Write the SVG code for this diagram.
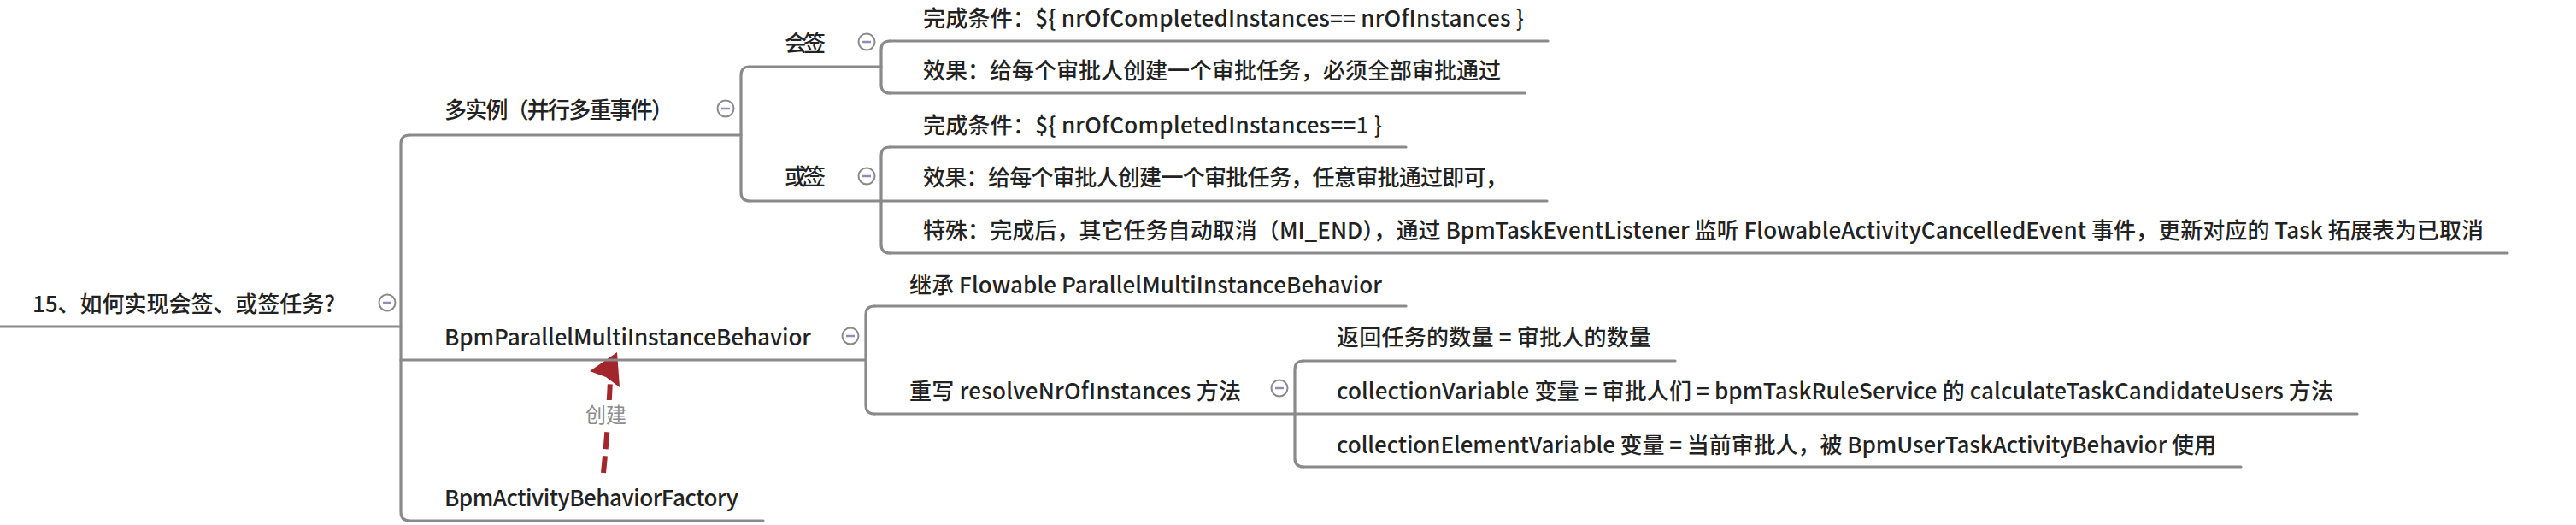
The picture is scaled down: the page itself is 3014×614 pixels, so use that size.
<svg xmlns="http://www.w3.org/2000/svg" width="3014" height="614" viewBox="0 0 3014 614">
<style>
.t{font-family:"Noto Sans CJK SC","Noto Sans",sans-serif;font-size:26px;fill:#222;font-weight:500}
.u{stroke:#8a8a8a;stroke-width:3.2;fill:none;stroke-linecap:round}
.c{fill:#fff;stroke:#8a8a8a;stroke-width:2}
.m{stroke:#8d8db5;stroke-width:2.5}
.lbl{font-family:"Noto Sans CJK SC","Noto Sans",sans-serif;font-size:24px;fill:#8c8c8c}
.dash{stroke:#a3262c;stroke-width:6;fill:none;stroke-dasharray:20 8}
</style>
<rect width="3014" height="614" fill="#fff"/>
<g id="connectors">
<path class="u" d="M479,158 Q469,158 469,168 V599 Q469,609 479,609"/>
<path class="u" d="M877,78 Q867,78 867,88 V225 Q867,235 877,235"/>
<path class="u" d="M1041,48 Q1031,48 1031,58 V99 Q1031,109 1041,109"/>
<path class="u" d="M1041,172 Q1031,172 1031,182 V286 Q1031,296 1041,296"/>
<path class="u" d="M1023,358 Q1013,358 1013,368 V474 Q1013,484 1023,484"/>
<path class="u" d="M1525,422 Q1515,422 1515,432 V536 Q1515,546 1525,546"/>
<g id="create-arrow">
<path class="dash" d="M706,553 Q711,505 714,446"/>
<polygon points="722,412 690,434 709,441 725,453" fill="#a3262c"/>
<rect x="683" y="468" width="52" height="34" fill="#fff"/>
<text class="lbl" x="709" y="494" text-anchor="middle">创建</text>
</g>
</g>
<g id="root">
<line class="u" x1="0" y1="382" x2="469" y2="382"/>
<text class="t" x="38" y="365" textLength="354">15、如何实现会签、或签任务?</text>
<circle class="c" cx="453" cy="354" r="9.5"/><line class="m" x1="448" y1="354" x2="458" y2="354"/>
</g>
<g id="multi-instance">
<line class="u" x1="479" y1="158" x2="867" y2="158"/>
<text class="t" x="520" y="138" textLength="268">多实例（并行多重事件）</text>
<circle class="c" cx="849" cy="127" r="9.5"/><line class="m" x1="844" y1="127" x2="854" y2="127"/>
</g>
<g id="huiqian">
<line class="u" x1="877" y1="78" x2="1031" y2="78"/>
<text class="t" x="918" y="60" textLength="48">会签</text>
<circle class="c" cx="1014" cy="49" r="9.5"/><line class="m" x1="1009" y1="49" x2="1019" y2="49"/>
</g>
<g id="huiqian-cond">
<line class="u" x1="1041" y1="48" x2="1811" y2="48"/>
<text class="t" x="1080" y="31" textLength="703">完成条件：${ nrOfCompletedInstances== nrOfInstances }</text>
</g>
<g id="huiqian-effect">
<line class="u" x1="1041" y1="109" x2="1784" y2="109"/>
<text class="t" x="1080" y="92" textLength="676">效果：给每个审批人创建一个审批任务，必须全部审批通过</text>
</g>
<g id="huoqian">
<line class="u" x1="877" y1="235" x2="1031" y2="235"/>
<text class="t" x="918" y="216" textLength="48">或签</text>
<circle class="c" cx="1014" cy="206" r="9.5"/><line class="m" x1="1009" y1="206" x2="1019" y2="206"/>
</g>
<g id="huoqian-cond">
<line class="u" x1="1041" y1="172" x2="1645" y2="172"/>
<text class="t" x="1080" y="156" textLength="537">完成条件：${ nrOfCompletedInstances==1 }</text>
</g>
<g id="huoqian-effect">
<line class="u" x1="1031" y1="235" x2="1810" y2="235"/>
<text class="t" x="1080" y="217" textLength="684">效果：给每个审批人创建一个审批任务，任意审批通过即可，</text>
</g>
<g id="huoqian-special">
<line class="u" x1="1041" y1="296" x2="2934" y2="296"/>
<text class="t" x="1080" y="279" textLength="1826">特殊：完成后，其它任务自动取消（MI_END），通过 BpmTaskEventListener 监听 FlowableActivityCancelledEvent 事件，更新对应的 Task 拓展表为已取消</text>
</g>
<g id="parallel-behavior">
<line class="u" x1="469" y1="421" x2="1013" y2="421"/>
<text class="t" x="520" y="404" textLength="429">BpmParallelMultiInstanceBehavior</text>
<circle class="c" cx="995" cy="393" r="9.5"/><line class="m" x1="990" y1="393" x2="1000" y2="393"/>
</g>
<g id="inherit">
<line class="u" x1="1023" y1="358" x2="1645" y2="358"/>
<text class="t" x="1064" y="343" textLength="553">继承 Flowable ParallelMultiInstanceBehavior</text>
</g>
<g id="override">
<line class="u" x1="1023" y1="484" x2="1515" y2="484"/>
<text class="t" x="1064" y="467" textLength="388">重写 resolveNrOfInstances 方法</text>
<circle class="c" cx="1497" cy="454" r="9.5"/><line class="m" x1="1492" y1="454" x2="1502" y2="454"/>
</g>
<g id="return-count">
<line class="u" x1="1525" y1="422" x2="1960" y2="422"/>
<text class="t" x="1564" y="404" textLength="368">返回任务的数量 = 审批人的数量</text>
</g>
<g id="collection-variable">
<line class="u" x1="1515" y1="484" x2="2758" y2="484"/>
<text class="t" x="1564" y="467" textLength="1166">collectionVariable 变量 = 审批人们 = bpmTaskRuleService 的 calculateTaskCandidateUsers 方法</text>
</g>
<g id="collection-element">
<line class="u" x1="1525" y1="546" x2="2622" y2="546"/>
<text class="t" x="1564" y="530" textLength="1029">collectionElementVariable 变量 = 当前审批人，被 BpmUserTaskActivityBehavior 使用</text>
</g>
<g id="factory">
<line class="u" x1="479" y1="609" x2="893" y2="609"/>
<text class="t" x="520" y="592" textLength="344">BpmActivityBehaviorFactory</text>
</g>
</svg>
